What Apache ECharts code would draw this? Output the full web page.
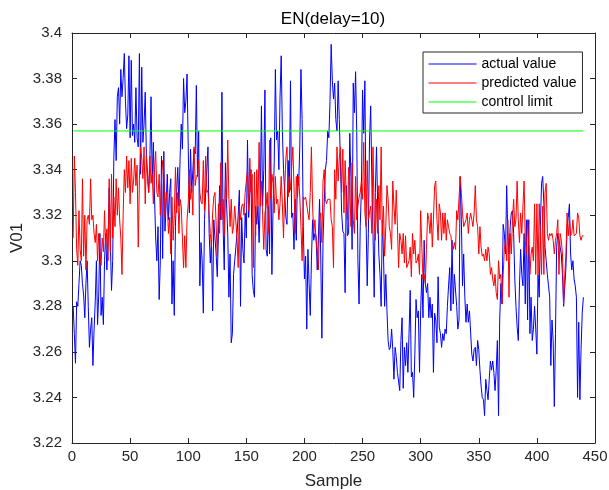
<!DOCTYPE html>
<html><head><meta charset="utf-8">
<script src="https://cdn.jsdelivr.net/npm/echarts@6/dist/echarts.min.js"></script>
<style>html,body{margin:0;padding:0;background:#fff}#c{width:609px;height:490px}</style>
</head><body><div id="c"></div>
<script>
const seriesNames = ['actual value', 'predicted value', 'control limit'];
const titleText = 'EN(delay=10)';
const xName = 'Sample';
const yName = 'V01';
const startSample = 1;
const controlLimit = 3.357;

const actual = [
3.280,3.268,3.255,3.282,3.280,3.290,3.300,3.298,3.290,3.285,
3.275,3.290,3.300,3.280,3.262,3.270,3.275,3.254,3.270,3.282,
3.300,3.272,3.285,3.312,3.276,3.284,3.272,3.300,3.312,3.296,
3.308,3.332,3.308,3.287,3.300,3.345,3.362,3.344,3.372,3.376,
3.360,3.384,3.372,3.380,3.391,3.370,3.358,3.364,3.390,3.354,
3.388,3.355,3.360,3.352,3.376,3.354,3.350,3.391,3.338,3.385,
3.352,3.360,3.374,3.346,3.338,3.330,3.344,3.372,3.335,3.352,
3.328,3.310,3.300,3.315,3.283,3.300,
3.346,3.301,3.348,3.313,3.325,3.338,3.318,3.330,3.336,3.281,
3.300,3.276,3.315,3.330,3.341,3.324,3.345,3.360,3.349,3.380,
3.365,3.370,3.382,3.350,3.321,3.349,3.330,3.340,3.349,3.347,
3.377,3.337,3.357,3.289,3.308,3.300,3.277,3.318,3.330,3.340,
3.350,3.312,3.299,3.309,3.278,3.318,3.310,3.303,3.293,3.312,
3.333,3.318,3.374,3.315,3.296,3.343,3.325,3.312,3.284,3.303,
3.264,3.268,3.294,3.300,3.306,3.312,3.320,3.331,3.280,3.319,
3.305,3.299,3.321,3.310,3.353,3.319,3.330,3.340,
3.294,3.287,3.284,3.324,3.316,3.324,3.308,3.327,3.368,3.324,
3.340,3.375,3.305,3.302,3.324,3.303,3.354,3.294,3.324,3.343,
3.384,3.353,3.357,3.340,3.372,3.390,3.357,3.340,3.330,3.319,
3.316,3.344,3.330,3.379,3.319,3.321,3.305,3.327,3.309,3.338,
3.333,3.350,3.384,3.362,3.315,3.292,3.302,3.270,3.305,3.290,
3.276,3.300,3.318,3.309,3.312,3.311,3.296,3.310,3.327,3.303,
3.266,3.309,3.325,3.340,3.344,3.357,3.354,3.370,3.395,3.379,
3.371,3.378,3.362,3.357,3.379,3.362,3.343,
3.321,3.313,3.312,3.286,3.333,3.311,3.312,3.356,3.337,3.305,
3.378,3.365,3.383,3.356,3.300,3.281,3.315,3.331,3.375,3.356,
3.379,3.318,3.289,3.312,3.353,3.368,3.335,3.312,3.284,3.330,
3.350,3.324,3.303,3.294,3.280,3.318,3.303,3.280,3.294,3.278,
3.265,3.261,3.262,3.270,3.261,3.248,3.262,3.258,3.251,3.251,
3.243,3.265,3.275,3.244,3.262,3.254,3.264,3.251,3.268,3.287,
3.249,3.251,3.240,3.259,3.283,3.275,3.278,3.251,3.278,3.294,
3.275,3.309,3.290,3.286,3.290,3.275,3.284,3.275,
3.281,3.251,3.277,3.274,3.264,3.293,3.271,3.268,3.262,3.268,
3.265,3.270,3.268,3.280,3.289,3.297,3.278,3.309,3.281,3.294,
3.294,3.280,3.270,3.274,3.337,3.318,3.289,3.303,3.284,3.273,
3.281,3.273,3.278,3.278,3.259,3.256,3.261,3.262,3.254,3.265,
3.261,3.252,3.245,3.240,3.239,3.232,3.248,3.243,3.239,3.248,
3.256,3.252,3.256,3.251,3.243,3.252,3.265,3.232,3.274,3.290,
3.281,3.316,3.312,3.303,3.333,3.312,3.303,3.315,3.321,3.322,
3.312,3.292,3.280,3.271,3.265,3.289,3.305,
3.294,3.289,3.312,3.281,3.318,3.274,3.318,3.268,3.284,3.265,
3.270,3.280,3.270,3.259,3.294,3.284,3.315,3.334,3.337,3.325,
3.306,3.300,3.294,3.289,3.284,3.254,3.274,3.265,3.236,3.268,
3.306,3.312,3.312,3.306,3.303,3.294,3.280,3.289,3.297,3.315,
3.319,3.325,3.303,3.296,3.300,3.292,3.289,3.284,3.240,3.273,
3.239,3.261,3.277,3.284
];

const predicted = [
3.310,3.346,3.330,3.305,3.298,3.322,3.305,3.300,3.336,3.302,
3.320,3.296,3.318,3.320,3.316,3.336,3.318,3.320,3.312,3.308,
3.316,3.300,3.312,3.304,3.298,3.310,3.304,3.322,3.306,3.314,
3.300,3.336,3.304,3.338,3.310,3.328,3.315,3.336,3.320,3.332,
3.318,3.310,3.294,3.320,3.340,3.330,3.346,3.332,3.344,3.325,
3.345,3.330,3.335,3.345,3.333,3.342,3.306,3.336,3.350,3.345,
3.336,3.350,3.325,3.346,3.336,3.330,3.346,3.334,3.338,3.325,
3.340,3.348,3.330,3.328,3.338,3.320,
3.335,3.344,3.338,3.319,3.330,3.325,3.312,3.319,3.303,3.328,
3.309,3.320,3.341,3.321,3.330,3.312,3.327,3.324,3.310,3.297,
3.311,3.297,3.318,3.325,3.340,3.327,3.333,3.320,3.350,3.333,
3.337,3.338,3.344,3.330,3.326,3.325,3.344,3.322,3.346,3.330,
3.331,3.320,3.312,3.306,3.321,3.328,3.330,3.330,3.302,3.325,
3.312,3.343,3.318,3.327,3.311,3.335,3.327,3.353,3.327,3.315,
3.327,3.312,3.315,3.324,3.324,3.310,3.297,3.324,3.318,3.324,
3.325,3.320,3.330,3.335,3.340,3.322,3.345,3.330,
3.338,3.297,3.339,3.311,3.340,3.324,3.352,3.324,3.335,3.320,
3.305,3.321,3.324,3.330,3.312,3.353,3.327,3.338,3.334,3.321,
3.337,3.325,3.327,3.318,3.325,3.337,3.325,3.310,3.331,3.345,
3.350,3.328,3.337,3.331,3.341,3.350,3.333,3.312,3.337,3.328,
3.337,3.328,3.315,3.300,3.328,3.327,3.328,3.328,3.321,3.318,
3.330,3.350,3.324,3.312,3.318,3.309,3.304,3.296,3.318,3.321,
3.308,3.335,3.340,3.327,3.325,3.327,3.327,3.327,3.318,3.315,
3.297,3.340,3.327,3.350,3.335,3.345,3.350,
3.330,3.349,3.321,3.344,3.328,3.318,3.341,3.333,3.315,3.343,
3.318,3.312,3.337,3.318,3.324,3.328,3.330,3.335,3.327,3.352,
3.321,3.315,3.344,3.318,3.321,3.324,3.312,3.350,3.318,3.309,
3.327,3.312,3.333,3.318,3.350,3.311,3.324,3.302,3.315,3.333,
3.327,3.315,3.312,3.305,3.335,3.324,3.316,3.331,3.315,3.297,
3.312,3.309,3.303,3.312,3.299,3.311,3.297,3.297,3.300,3.306,
3.293,3.312,3.303,3.309,3.299,3.300,3.303,3.294,3.322,3.306,
3.292,3.294,3.290,3.305,3.321,3.318,3.312,3.321,
3.306,3.318,3.333,3.335,3.318,3.309,3.325,3.321,3.309,3.321,
3.312,3.321,3.309,3.318,3.315,3.312,3.311,3.306,3.305,3.308,
3.305,3.322,3.318,3.318,3.337,3.330,3.321,3.315,3.315,3.318,
3.321,3.312,3.318,3.321,3.318,3.315,3.321,3.333,3.318,3.315,
3.303,3.315,3.306,3.302,3.303,3.300,3.305,3.300,3.306,3.303,
3.294,3.297,3.292,3.289,3.294,3.286,3.283,3.300,3.292,3.294,
3.281,3.294,3.305,3.309,3.300,3.318,3.284,3.312,3.303,3.318,
3.327,3.315,3.318,3.335,3.318,3.308,3.321,
3.312,3.324,3.335,3.309,3.303,3.318,3.306,3.294,3.303,3.306,
3.300,3.325,3.294,3.325,3.294,3.325,3.311,3.294,3.324,3.294,
3.330,3.334,3.312,3.309,3.312,3.311,3.312,3.309,3.303,3.309,
3.312,3.318,3.294,3.312,3.309,3.303,3.281,3.294,3.303,3.321,
3.311,3.318,3.311,3.312,3.318,3.311,3.311,3.312,3.321,3.319,
3.311,3.309,3.311,3.311
];

const FONT = '"Liberation Sans", Arial, Helvetica, sans-serif';
const AXIS_COLOR = '#262626';
const toPairs = arr => arr.map((v, i) => [i + startSample, v]);
const lastSample = startSample + actual.length - 1;

function baseX(pos, showLabel) {
  return {
    type: 'value', min: 0, max: 450, interval: 50, position: pos,
    axisLine: { show: true, onZero: false, lineStyle: { color: AXIS_COLOR, width: 1 } },
    axisTick: { show: true, inside: true, length: 5, lineStyle: { color: AXIS_COLOR } },
    axisLabel: { show: showLabel, color: AXIS_COLOR, fontSize: 15, fontFamily: FONT, margin: 6 },
    splitLine: { show: false }
  };
}
function baseY(pos, showLabel) {
  return {
    type: 'value', min: 3.22, max: 3.4, interval: 0.02, position: pos,
    axisLine: { show: true, onZero: false, lineStyle: { color: AXIS_COLOR, width: 1 } },
    axisTick: { show: true, inside: true, length: 5, lineStyle: { color: AXIS_COLOR } },
    axisLabel: { show: showLabel, color: AXIS_COLOR, fontSize: 15, fontFamily: FONT, margin: 10,
      formatter: v => String(parseFloat(Number(v).toFixed(2))) },
    splitLine: { show: false }
  };
}

const xMain = Object.assign(baseX('bottom', true), {
  name: xName, nameLocation: 'middle', nameGap: 30, nameMoveOverlap: false,
  nameTextStyle: { fontSize: 17, color: AXIS_COLOR, fontFamily: FONT }
});
const yMain = Object.assign(baseY('left', true), {
  name: yName, nameLocation: 'middle', nameGap: 46, nameMoveOverlap: false,
  nameTextStyle: { fontSize: 17, color: AXIS_COLOR, fontFamily: FONT }
});

const chart = echarts.init(document.getElementById('c'), null, { renderer: 'canvas' });
chart.setOption({
  animation: false,
  backgroundColor: '#ffffff',
  title: {
    text: titleText, left: 333, top: 11, textAlign: 'center', padding: 0,
    textStyle: { fontSize: 17, fontWeight: 'normal', color: '#000', fontFamily: FONT }
  },
  grid: { left: 72, right: 14, top: 33, bottom: 47, containLabel: false, outerBoundsMode: 'none' },
  xAxis: [xMain, baseX('top', false)],
  yAxis: [yMain, baseY('right', false)],
  legend: {
    data: seriesNames, orient: 'vertical', left: 423, top: 52,
    padding: [5, 6, 4, 5], itemGap: 5, itemWidth: 48, itemHeight: 14,
    borderColor: AXIS_COLOR, borderWidth: 1, backgroundColor: '#fff',
    itemStyle: { opacity: 0 },
    lineStyle: { width: 1 },
    textStyle: { fontSize: 14, color: '#000', fontFamily: FONT, lineHeight: 14 }
  },
  series: [
    { name: seriesNames[0], type: 'line', data: toPairs(actual), symbol: 'none',
      lineStyle: { color: '#0000ff', width: 1 }, itemStyle: { color: '#0000ff' } },
    { name: seriesNames[1], type: 'line', data: toPairs(predicted), symbol: 'none',
      lineStyle: { color: '#ff0000', width: 1 }, itemStyle: { color: '#ff0000' } },
    { name: seriesNames[2], type: 'line', data: [[startSample, controlLimit], [lastSample, controlLimit]], symbol: 'none',
      lineStyle: { color: '#00ff00', width: 1 }, itemStyle: { color: '#00ff00' } }
  ]
});
</script>
</body></html>
